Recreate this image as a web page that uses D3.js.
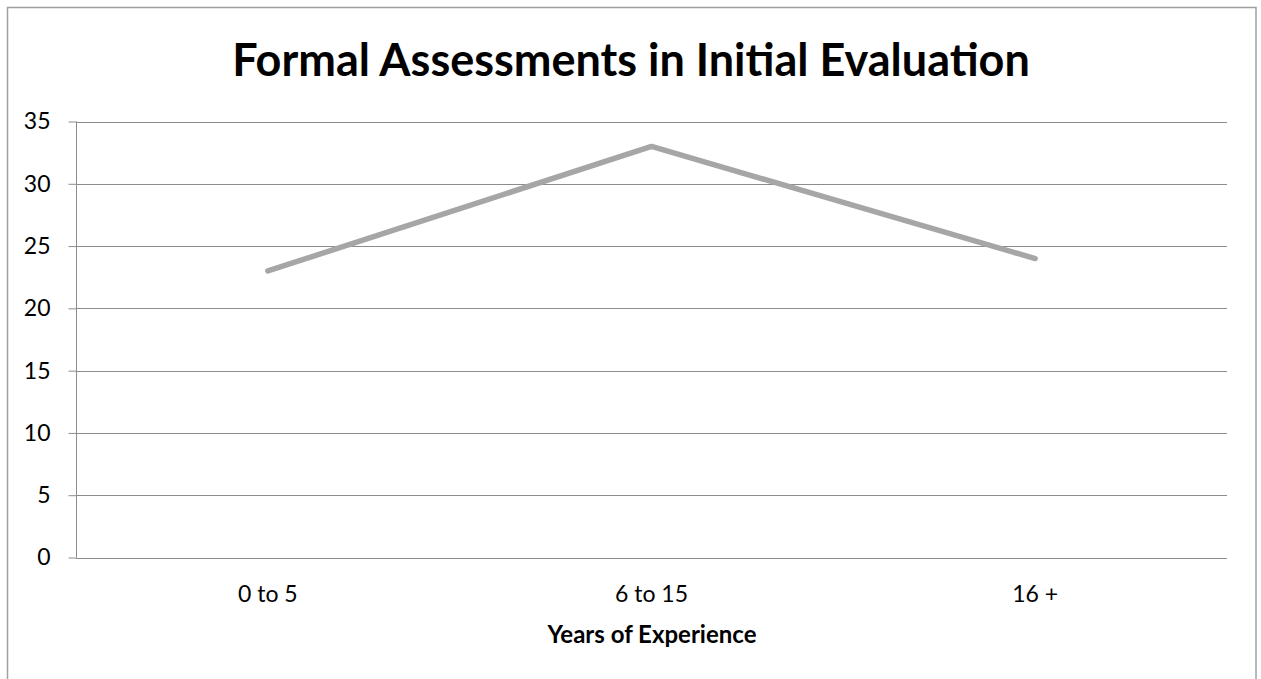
<!DOCTYPE html>
<html><head><meta charset="utf-8">
<script src="https://cdn.jsdelivr.net/npm/d3@7"></script>
<style>body{margin:0;background:#fff;} svg{display:block;} text{font-family:Lato,"Open Sans",sans-serif;}</style>
</head><body>
<svg id="c" width="1261" height="679"></svg>
<script>
const categories = ["0 to 5", "6 to 15", "16 +"];
const values = [23, 33, 24];
const yTicks = [0, 5, 10, 15, 20, 25, 30, 35];
const title = "Formal Assessments in Initial Evaluation";
const xTitle = "Years of Experience";

const svg = d3.select("#c");
const m = {left: 76, right: 1227, top: 121.5, bottom: 557.5};

svg.append("rect").attr("x", 7.5).attr("y", 7.5).attr("width", 1248.5).attr("height", 680)
  .attr("fill", "#fff").attr("stroke", "#a0a0a0").attr("stroke-width", 1.5);

const x = d3.scaleBand().domain(categories).range([m.left, m.right]);
const y = d3.scaleLinear().domain([0, 35]).range([m.bottom, m.top]);

// gridlines
svg.append("g").selectAll("line").data(yTicks.filter(d => d > 0)).join("line")
  .attr("x1", m.left).attr("x2", m.right)
  .attr("y1", d => Math.round(y(d)) + 0.5).attr("y2", d => Math.round(y(d)) + 0.5)
  .attr("stroke", "#8c8c8c").attr("stroke-width", 1);

// y axis
const ya = svg.append("g").attr("transform", `translate(${m.left + 0.5},0)`)
  .call(d3.axisLeft(y).tickValues(yTicks).tickSize(8).tickPadding(18));
ya.select(".domain").attr("stroke", "#8c8c8c").attr("d", `M0,${m.top}V${m.bottom}`);
ya.selectAll(".tick line").attr("stroke", "#8c8c8c");
ya.selectAll(".tick text").attr("font-size", 23).attr("fill", "#000").attr("font-family", "Lato");

// x axis
const xa = svg.append("g").attr("transform", `translate(0,${Math.round(m.bottom) + 0.5})`)
  .call(d3.axisBottom(x).tickSize(0).tickPadding(27));
xa.select(".domain").attr("stroke", "#8c8c8c").attr("d", `M${m.left},0H${m.right}`);
xa.selectAll(".tick text").attr("font-size", 23).attr("fill", "#000").attr("font-family", "Lato");

// line
const line = d3.line().x((d, i) => x(categories[i]) + x.bandwidth() / 2).y(d => y(d));
svg.append("path").datum(values).attr("d", line).attr("fill", "none")
  .attr("stroke", "#a6a6a6").attr("stroke-width", 5.5).attr("stroke-linecap", "round").attr("stroke-linejoin", "round");

svg.append("text").attr("x", 631).attr("y", 76).attr("text-anchor", "middle")
  .attr("font-size", 45).attr("font-weight", "bold").attr("fill", "#000").text(title);
svg.append("text").attr("x", 652).attr("y", 643).attr("text-anchor", "middle")
  .attr("font-size", 24).attr("font-weight", "bold").attr("fill", "#000").text(xTitle);
</script>
</body></html>
